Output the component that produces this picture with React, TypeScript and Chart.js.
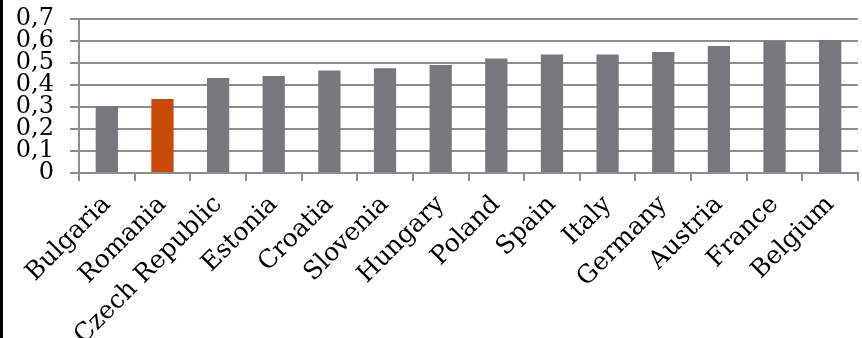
import React, { useEffect, useRef } from "react";
import { Chart, registerables } from "chart.js";

Chart.register(...registerables);

const countries = [
  "Bulgaria",
  "Romania",
  "Czech Republic",
  "Estonia",
  "Croatia",
  "Slovenia",
  "Hungary",
  "Poland",
  "Spain",
  "Italy",
  "Germany",
  "Austria",
  "France",
  "Belgium",
];

const values = [
  0.305, 0.336, 0.432, 0.441, 0.466, 0.476, 0.491, 0.521, 0.539, 0.539, 0.55,
  0.577, 0.601, 0.605,
];

const highlighted = "Romania";

const yMin = 0;
const yMax = 0.7;
const yStep = 0.1;

const GREY = "#77787b";
const ORANGE = "#c94a06";
const LINE = "#8e8e8e";
const FONT = "'DejaVu Serif', serif";

export default function App() {
  const canvasRef = useRef<HTMLCanvasElement | null>(null);

  useEffect(() => {
    if (!canvasRef.current) return;
    const chart = new Chart(canvasRef.current, {
      type: "bar",
      data: {
        labels: countries,
        datasets: [
          {
            data: values,
            backgroundColor: countries.map((c) => (c === highlighted ? ORANGE : GREY)),
            borderWidth: 0,
            barPercentage: 0.4,
            categoryPercentage: 1,
          },
        ],
      },
      options: {
        responsive: false,
        animation: false,
        layout: { padding: { top: 19, right: 4, left: 0, bottom: 0 } },
        plugins: {
          legend: { display: false },
          tooltip: { enabled: false },
        },
        scales: {
          x: {
            offset: true,
            grid: {
              offset: true,
              drawOnChartArea: false,
              drawTicks: true,
              tickLength: 8,
              color: LINE,
              lineWidth: 2,
            },
            border: { color: LINE, width: 2 },
            ticks: {
              autoSkip: false,
              maxRotation: 45,
              minRotation: 45,
              padding: 9,
              color: "#000",
              font: { family: FONT, size: 25 },
            },
            afterFit: (scale: any) => {
              scale.height = 165;
              scale.paddingLeft = 0;
              scale.paddingRight = 0;
            },
          },
          y: {
            min: yMin,
            max: yMax,
            grid: {
              color: LINE,
              lineWidth: 2,
              tickLength: 9,
            },
            border: { color: LINE, width: 2 },
            ticks: {
              stepSize: yStep,
              autoSkip: false,
              padding: 16,
              color: "#000",
              font: { family: FONT, size: 24, lineHeight: 1 },
              callback: (v: any) => Number(v).toFixed(1).replace(".", ",").replace(/^0,0$/, "0"),
            },
            afterFit: (scale: any) => {
              scale.width = 76;
              scale.paddingTop = 0;
              scale.paddingBottom = 0;
            },
          },
        },
      },
    });
    return () => chart.destroy();
  }, []);

  return (
    <div
      style={{
        position: "fixed",
        left: 0,
        top: 0,
        width: 862,
        height: 338,
        background: "#fff",
        borderLeft: "3px solid #000",
        boxSizing: "border-box",
        overflow: "hidden",
      }}
    >
      <canvas ref={canvasRef} width={859} height={338} style={{ display: "block" }} />
    </div>
  );
}
